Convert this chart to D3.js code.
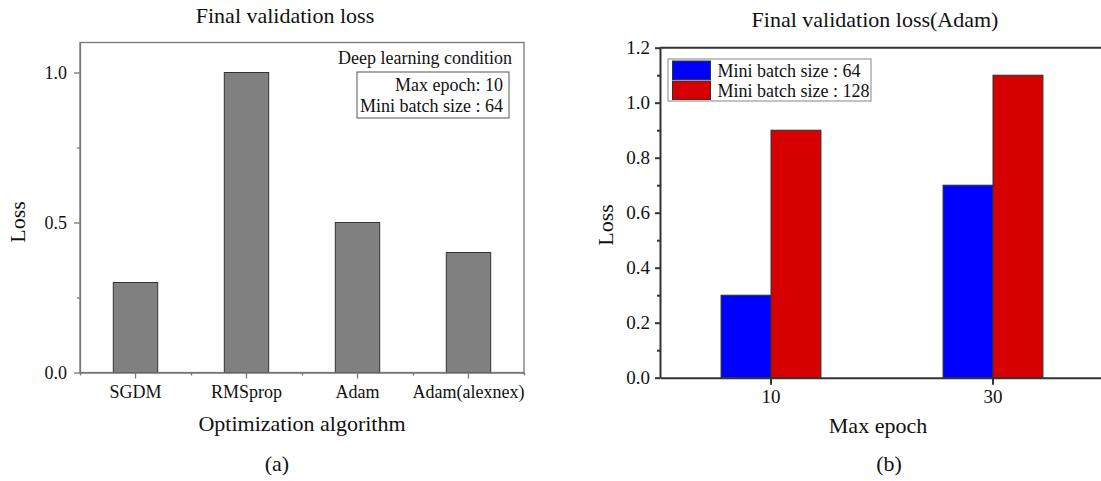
<!DOCTYPE html>
<html>
<head>
<meta charset="utf-8">
<script src="https://cdn.jsdelivr.net/npm/d3@7"></script>
<style>
  html, body { margin: 0; padding: 0; background: #fff; }
  svg { display: block; }
  text { font-family: "Liberation Serif", "Times New Roman", serif; fill: #111; }
</style>
</head>
<body>
<svg id="chart" width="1101" height="481"></svg>
<script>
// Panel (a): final validation loss per optimizer
const algorithms = ["SGDM", "RMSprop", "Adam", "Adam(alexnex)"];
const algoLoss = [0.3, 1.0, 0.5, 0.4];
const lossTicksA = [0, 0.5, 1.0];
const lossMinorA = [0.25, 0.75];

// Panel (b): Adam loss by max epoch and mini batch size
const epochs = ["10", "30"];
const batchSizes = ["Mini batch size : 64", "Mini batch size : 128"];
const loss64 = [0.3, 0.7];
const loss128 = [0.9, 1.1];
const lossTicksB = [0, 0.2, 0.4, 0.6, 0.8, 1.0, 1.2];
const lossMinorB = [0.1, 0.3, 0.5, 0.7, 0.9, 1.1];

const svg = d3.select("#chart");
const fmt = d3.format(".1f");
const SMALL = 18, TICK_B = 19, BIG = 22;

/* ---------------- panel (a) ---------------- */
const xA = d3.scaleBand().domain(algorithms).range([80, 524]);
const yA = d3.scaleLinear().domain([0, 1.1]).range([372.5, 42.5]);
const gA = svg.append("g");

// frame
gA.append("rect")
  .attr("x", xA.range()[0]).attr("y", yA(1.1))
  .attr("width", xA.range()[1] - xA.range()[0])
  .attr("height", yA(0) - yA(1.1))
  .attr("fill", "none").attr("stroke", "#777").attr("stroke-width", 1.3);

// bars
gA.selectAll("rect.bar").data(algorithms).join("rect")
  .attr("class", "bar")
  .attr("x", d => xA(d) + xA.bandwidth() * 0.3)
  .attr("width", xA.bandwidth() * 0.4)
  .attr("y", (d, i) => yA(algoLoss[i]))
  .attr("height", (d, i) => yA(0) - yA(algoLoss[i]))
  .attr("fill", "#808080").attr("stroke", "#333").attr("stroke-width", 1);

function styleAxis(g, color, width, size) {
  g.select(".domain").attr("stroke", color).attr("stroke-width", width);
  g.selectAll(".tick line").attr("stroke", color).attr("stroke-width", width);
  g.selectAll(".tick text")
    .attr("font-family", "Liberation Serif, Times New Roman, serif")
    .attr("font-size", size).attr("fill", "#111");
}

// y axis
const yAxA = gA.append("g").attr("transform", `translate(${xA.range()[0]},0)`)
  .call(d3.axisLeft(yA).tickValues(lossTicksA).tickFormat(fmt)
    .tickSize(6).tickSizeOuter(0).tickPadding(7));
styleAxis(yAxA, "#777", 1.3, SMALL);
const yMinA = gA.append("g").attr("transform", `translate(${xA.range()[0]},0)`)
  .call(d3.axisLeft(yA).tickValues(lossMinorA).tickFormat("").tickSize(3).tickSizeOuter(0));
yMinA.select(".domain").remove();
styleAxis(yMinA, "#777", 1.3, SMALL);

// x axis
const xAxA = gA.append("g").attr("transform", `translate(0,${yA(0)})`)
  .call(d3.axisBottom(xA).tickSize(6).tickSizeOuter(0).tickPadding(7));
styleAxis(xAxA, "#777", 1.3, SMALL);
const edgeA = d3.scaleLinear().domain([0, algorithms.length]).range(xA.range());
const xMinA = gA.append("g").attr("transform", `translate(0,${yA(0)})`)
  .call(d3.axisBottom(edgeA).ticks(algorithms.length).tickFormat("").tickSize(3).tickSizeOuter(0));
xMinA.select(".domain").remove();
styleAxis(xMinA, "#777", 1.3, SMALL);

// titles
gA.append("text").attr("x", 285).attr("y", 23).attr("text-anchor", "middle")
  .attr("font-size", BIG).text("Final validation loss");
gA.append("text").attr("x", 302).attr("y", 431).attr("text-anchor", "middle")
  .attr("font-size", BIG).text("Optimization algorithm");
gA.append("text").attr("transform", "translate(25,222) rotate(-90)")
  .attr("text-anchor", "middle").attr("font-size", BIG).text("Loss");
gA.append("text").attr("x", 277).attr("y", 471).attr("text-anchor", "middle")
  .attr("font-size", BIG).text("(a)");

// condition note
gA.append("text").attr("x", 512).attr("y", 63.5).attr("text-anchor", "end")
  .attr("font-size", SMALL).text("Deep learning condition");
gA.append("rect").attr("x", 357).attr("y", 72).attr("width", 152).attr("height", 46)
  .attr("fill", "#fff").attr("stroke", "#555").attr("stroke-width", 1);
gA.append("text").attr("x", 503).attr("y", 91).attr("text-anchor", "end")
  .attr("font-size", SMALL).text("Max epoch: 10");
gA.append("text").attr("x", 503).attr("y", 112).attr("text-anchor", "end")
  .attr("font-size", SMALL).text("Mini batch size : 64");

/* ---------------- panel (b) ---------------- */
const xB = d3.scaleBand().domain(epochs).range([660, 1104]);
const yB = d3.scaleLinear().domain([0, 1.2]).range([377.7, 47.7]);
const barW = xB.bandwidth() * 0.225;
const xSub = d3.scaleBand().domain(batchSizes).range([0, 2 * barW]);
const colors = d3.scaleOrdinal().domain(batchSizes).range(["#0000ff", "#d60000"]);
const gB = svg.append("g");

const rows = [];
epochs.forEach((e, i) => {
  rows.push({ epoch: e, series: batchSizes[0], value: loss64[i] });
  rows.push({ epoch: e, series: batchSizes[1], value: loss128[i] });
});

gB.selectAll("rect.bar").data(rows).join("rect")
  .attr("class", "bar")
  .attr("x", d => xB(d.epoch) + xB.bandwidth() / 2 - barW + xSub(d.series))
  .attr("width", xSub.bandwidth())
  .attr("y", d => yB(d.value))
  .attr("height", d => yB(0) - yB(d.value))
  .attr("fill", d => colors(d.series)).attr("stroke", "#333").attr("stroke-width", 1);

// top frame line
gB.append("line").attr("x1", xB.range()[0]).attr("x2", xB.range()[1])
  .attr("y1", yB(1.2)).attr("y2", yB(1.2))
  .attr("stroke", "#333").attr("stroke-width", 2);

const yAxB = gB.append("g").attr("transform", `translate(${xB.range()[0]},0)`)
  .call(d3.axisLeft(yB).tickValues(lossTicksB).tickFormat(fmt)
    .tickSize(5).tickSizeOuter(0).tickPadding(5));
styleAxis(yAxB, "#333", 2, TICK_B);
const yMinB = gB.append("g").attr("transform", `translate(${xB.range()[0]},0)`)
  .call(d3.axisLeft(yB).tickValues(lossMinorB).tickFormat("").tickSize(3).tickSizeOuter(0));
yMinB.select(".domain").remove();
styleAxis(yMinB, "#333", 2, TICK_B);

const xAxB = gB.append("g").attr("transform", `translate(0,${yB(0)})`)
  .call(d3.axisBottom(xB).tickSize(7).tickSizeOuter(0).tickPadding(5));
styleAxis(xAxB, "#333", 2, TICK_B);

gB.append("text").attr("x", 875).attr("y", 27).attr("text-anchor", "middle")
  .attr("font-size", BIG).text("Final validation loss(Adam)");
gB.append("text").attr("x", 878).attr("y", 433).attr("text-anchor", "middle")
  .attr("font-size", BIG).text("Max epoch");
gB.append("text").attr("transform", "translate(613,225) rotate(-90)")
  .attr("text-anchor", "middle").attr("font-size", BIG).text("Loss");
gB.append("text").attr("x", 889).attr("y", 471).attr("text-anchor", "middle")
  .attr("font-size", BIG).text("(b)");

// legend
const leg = gB.append("g");
leg.append("rect").attr("x", 668).attr("y", 59).attr("width", 203).attr("height", 42)
  .attr("fill", "#fff").attr("stroke", "#999").attr("stroke-width", 1.2);
batchSizes.forEach((s, i) => {
  leg.append("rect").attr("x", 672.5).attr("y", 61 + i * 20).attr("width", 38).attr("height", 18.5)
    .attr("fill", colors(s)).attr("stroke", "#333").attr("stroke-width", 1);
  leg.append("text").attr("x", 717.5).attr("y", 77 + i * 20)
    .attr("font-size", SMALL).text(s);
});
</script>
</body>
</html>
